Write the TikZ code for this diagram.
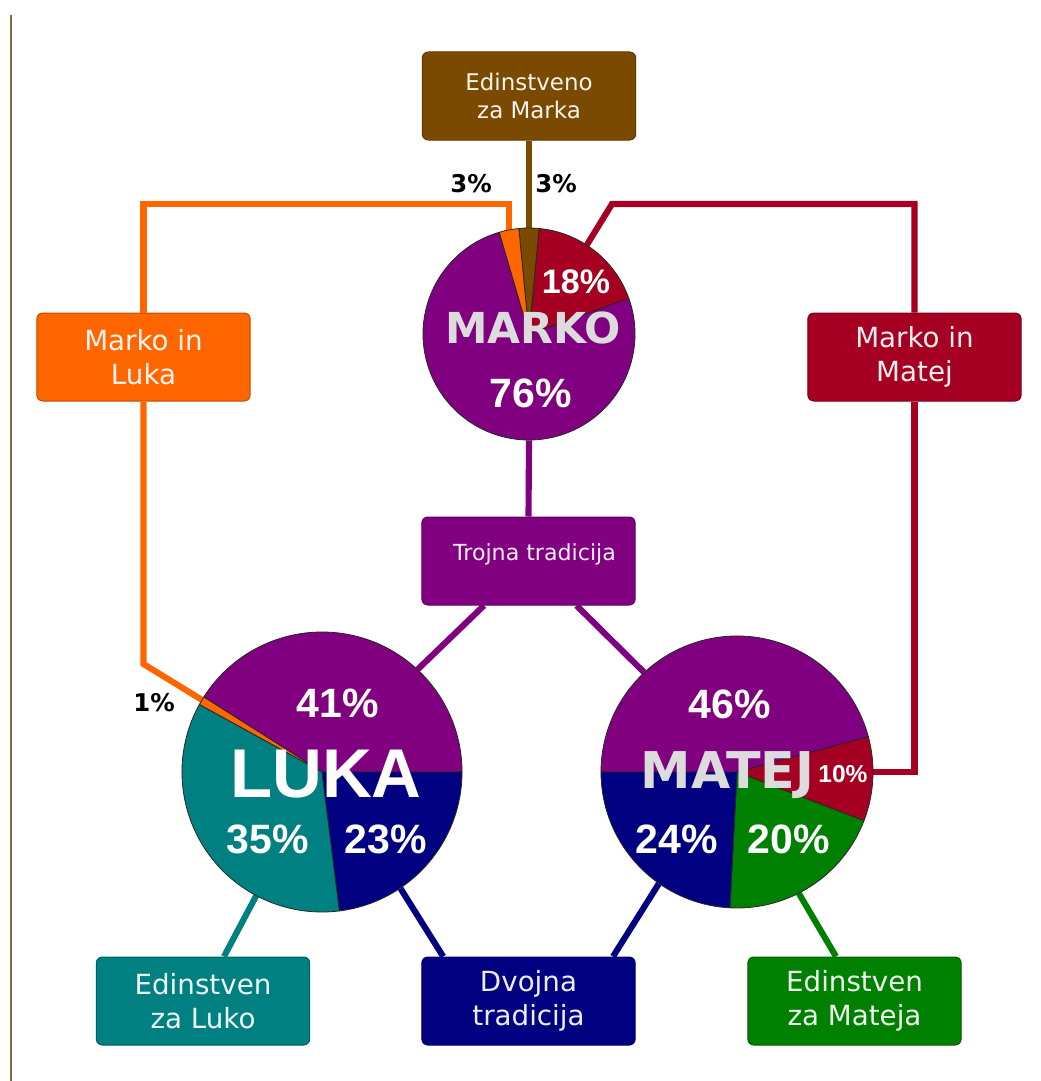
\documentclass[tikz,border=0pt]{standalone}
\usepackage{fontspec}
\setmainfont{DejaVu Sans}
\newfontfamily\libsans{Liberation Sans}
\usetikzlibrary{calc}
\definecolor{cbrown}{HTML}{7A4A00}
\definecolor{corange}{HTML}{FF6600}
\definecolor{cred}{HTML}{A50021}
\definecolor{cpurple}{HTML}{800080}
\definecolor{cteal}{HTML}{008080}
\definecolor{cnavy}{HTML}{000080}
\definecolor{cgreen}{HTML}{008000}
\definecolor{clabel}{HTML}{DCDCDC}
\definecolor{cedge}{HTML}{8B6B3D}
\newcommand\mywedge[5]{%
  \filldraw[fill=#5, draw=black!85, line width=0.6pt, line join=round]
    (#1) -- ++(-#3:#2) arc[start angle=-#3, end angle=-#4, radius=#2] -- cycle;}
\begin{document}
\begin{tikzpicture}[x=0.75pt,y=-0.75pt,
  box/.style={rectangle, rounded corners=4.5pt, minimum width=160pt,
    minimum height=66pt, inner sep=0pt, align=center, text=white,
    text opacity=0.93, draw=#1!75!black, fill=#1, line width=0.75pt},
  conn/.style={draw=#1, line width=4.6pt},
  pie/.style={circle, inner sep=0pt, minimum size=#1},
  pct/.style={font=\libsans\bfseries\fontsize{30.75}{31}\selectfont,
    text=white, anchor=base, inner sep=0pt},
  small/.style={font=\bfseries\fontsize{18.3}{18}\selectfont, text=black,
    anchor=base, inner sep=0pt},
  bigname/.style={font=\bfseries\fontsize{#1}{#1}\selectfont, text=clabel,
    anchor=base, inner sep=0pt},
  midfont/.style={font=\fontsize{20.8}{26}\selectfont}
]
\useasboundingbox[fill=white] (0,0) rectangle (1040,1081);
\coordinate (lt) at (11,15);
\coordinate (lb) at (11,1081);
\draw[cedge, line width=1.2pt] (lt) -- (lb);

% pie anchors
\node[pie=159pt] (marko) at (529,334) {};
\node[pie=210pt] (luka) at (322,772) {};
\node[pie=204pt] (matej) at (737,772) {};

% boxes
\node[box=cbrown, font=\fontsize{17.2}{21.4}\selectfont] (emarka) at (529,96) {Edinstveno\\za Marka};
\node[box=corange, midfont] (mluka) at (143.5,357) {Marko in\\Luka};
\node[box=cred, midfont] (mmatej) at (914.5,357) {Marko in\\Matej};
\node[box=cpurple, font=\fontsize{16.6}{20}\selectfont] (trojna) at (528.5,561) {\hspace*{9pt}Trojna tradicija\\[-6pt]\mbox{}};
\node[box=cteal, midfont] (eluka) at (203,1001) {Edinstven\\za Luko};
\node[box=cnavy, midfont] (dvojna) at (528.5,1001) {Dvojna\\tradicija};
\node[box=cgreen, midfont] (emateja) at (854.5,1001) {Edinstven\\za Mateja};

% connectors
\coordinate (ytop) at (0,204);
\coordinate (rbend) at (612,204);
\coordinate (obend) at (0,664);
\draw[conn=cbrown] (emarka.south) -- (marko.north);
\draw[conn=corange] (marko.101) -- (marko.101 |- ytop) -- (mluka.north |- ytop) -- (mluka.north);
\draw[conn=corange] (mluka.south) -- (mluka.south |- obend) -- (luka.149.4);
\draw[conn=cred] (marko.57) -- (rbend) -- (mmatej.north |- rbend) -- (mmatej.north);
\draw[conn=cred] (mmatej.south) |- (matej.east);
\draw[conn=cpurple] (marko.south) -- (trojna.north);
\draw[conn=cpurple] ([xshift=-33.4pt]trojna.south) -- (luka.47);
\draw[conn=cpurple] ([xshift=36pt]trojna.south) -- (matej.133);
\draw[conn=cteal] (luka.242.5) -- ([xshift=15.75pt]eluka.north);
\draw[conn=cnavy] (luka.304) -- ([xshift=-64pt]dvojna.north);
\draw[conn=cnavy] (matej.235.7) -- ([xshift=63.4pt]dvojna.north);
\draw[conn=cgreen] (matej.297.7) -- ([xshift=-13.9pt]emateja.north);

% pies
\mywedge{marko.center}{106}{106.3}{379.7}{cpurple}
\mywedge{marko.center}{106}{19.7}{84.5}{cred}
\mywedge{marko.center}{106}{84.5}{95.5}{cbrown}
\mywedge{marko.center}{106}{95.5}{106.3}{corange}

\mywedge{luka.center}{140}{0}{147.6}{cpurple}
\mywedge{luka.center}{140}{147.6}{151.2}{corange}
\mywedge{luka.center}{140}{151.2}{277.2}{cteal}
\mywedge{luka.center}{140}{277.2}{360}{cnavy}

\mywedge{matej.center}{136}{15}{180}{cpurple}
\mywedge{matej.center}{136}{339}{375}{cred}
\mywedge{matej.center}{136}{267}{339}{cgreen}
\mywedge{matej.center}{136}{180}{267}{cnavy}

% labels
\node[pct, font=\libsans\bfseries\fontsize{25.5}{26}\selectfont] (l18) at (576,293) {18\%};
\node[bigname=32] (lmarko) at (533,343) {MARKO};
\node[pct] (l76) at (531,407) {76\%};
\node[pct] (l41) at (338,717) {41\%};
\node[pct, font=\libsans\bfseries\fontsize{51.75}{52}\selectfont] (lluka) at (326,797) {LUKA};
\node[pct] (l35) at (267.5,853) {35\%};
\node[pct] (l23) at (386,853) {23\%};
\node[pct] (l46) at (730,718) {46\%};
\node[bigname=38] (lmatej) at (727.5,788) {MATEJ};
\node[pct, font=\libsans\bfseries\fontsize{18.4}{19}\selectfont] (l10) at (843,782) {10\%};
\node[pct] (l24) at (676.5,853) {24\%};
\node[pct] (l20) at (789,853) {20\%};
\node[small] (p3a) at (471,192) {3\%};
\node[small] (p3b) at (556,192) {3\%};
\node[small] (p1) at (154,711) {1\%};
\end{tikzpicture}
\end{document}
